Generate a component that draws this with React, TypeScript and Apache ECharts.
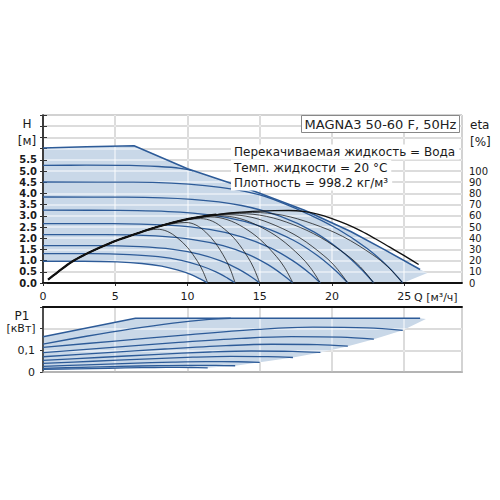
import React, { useEffect, useRef } from "react";
import * as echarts from "echarts";

// ---------- tick labels ----------
const qTicks = [0, 5, 10, 15, 20, 25];
const hTicks = [0, 0.5, 1, 1.5, 2, 2.5, 3, 3.5, 4, 4.5, 5, 5.5];
const etaTicks = [0, 10, 20, 30, 40, 50, 60, 70, 80, 90, 100];
const pTicks = [0, 0.1];

// ---------- head curves H [m] vs Q [m3/h] ----------
const hMax = [[0, 6.03], [3, 6.08], [6.3, 6.13], [10, 5.1], [14.4, 4.15], [18.1, 3.25], [21.3, 2.3], [23.6, 1.5], [26.1, 0.6]];
const hTip = [[26.6, 0.45], [24.9, 0]];
const hC1 = [[0, 0.97], [2.85, 0.97], [5.13, 0.94], [6.84, 0.87], [8.21, 0.75], [9.35, 0.57], [10.26, 0.37], [10.94, 0.16], [11.4, 0]];
const hC2 = [[0, 1.31], [3.33, 1.31], [5.99, 1.27], [7.98, 1.18], [9.58, 1.01], [10.91, 0.77], [11.97, 0.5], [12.77, 0.22], [13.3, 0]];
const hC3 = [[0, 1.67], [3.75, 1.67], [6.75, 1.62], [9, 1.5], [10.8, 1.29], [12.3, 0.99], [13.5, 0.63], [14.4, 0.28], [15, 0]];
const hC4 = [[0, 2.16], [4.33, 2.16], [7.79, 2.1], [10.38, 1.94], [12.46, 1.67], [14.19, 1.28], [15.57, 0.82], [16.61, 0.36], [17.3, 0]];
const hC5 = [[0, 2.65], [4.8, 2.65], [8.64, 2.58], [11.52, 2.39], [13.82, 2.05], [15.74, 1.57], [17.28, 1.0], [18.43, 0.45], [19.2, 0]];
const hC6 = [[0, 3.25], [5.28, 3.24], [9.5, 3.16], [12.66, 2.93], [15.19, 2.51], [17.3, 1.92], [18.99, 1.23], [20.26, 0.55], [21.1, 0]];
const hC7 = [[0, 3.84], [5.73, 3.83], [10.31, 3.73], [13.74, 3.46], [16.49, 2.96], [18.78, 2.27], [20.61, 1.45], [21.98, 0.65], [22.9, 0]];
const hC8 = [[0, 4.51], [6.23, 4.5], [11.21, 4.35], [14.94, 3.95], [17.93, 3.2], [20.42, 2.4], [22.41, 1.55], [23.9, 0.72], [24.9, 0]];
const hC9 = [[0, 5.25], [3, 5.26], [6, 5.25], [8, 5.2], [9.5, 5.12], [10.4, 5.0]];
const hCurves = [hC1, hC2, hC3, hC4, hC5, hC6, hC7, hC8, hC9];

// ---------- efficiency curves eta [%] ----------
const etaRise = [[0.35, 3], [1, 9.5], [2, 19], [3, 26], [4, 32], [5, 37.5], [6, 42], [7, 46.5], [8, 50.5], [9, 54], [10, 57], [11, 59.3], [12, 61], [13, 62.5], [14, 63.5], [15, 64.2], [16, 64.6], [17, 64.7]];
const etaOuterFall = [[18, 64], [19, 61.5], [20, 57.5], [21, 52.5], [22, 46.5], [23, 39.5], [24, 32], [25, 24.5], [26, 16.5]];
const etaArcRiseTo = [6, 8, 9, 10, 11, 11, 12, 13];
const etaArc1 = [[7.9, 48], [8.6, 46.1], [9.3, 40.3], [10.0, 31.7], [10.7, 19.2], [11.05, 11], [11.4, 0]];
const etaArc2 = [[9.9, 54], [10.58, 51.8], [11.26, 45.4], [11.94, 35.6], [12.62, 21.6], [12.96, 12.4], [13.3, 0]];
const etaArc3 = [[10.9, 57.5], [11.72, 55.2], [12.54, 48.3], [13.36, 38], [14.18, 23], [14.59, 13.2], [15.0, 0]];
const etaArc4 = [[11.6, 59], [12.74, 56.6], [13.88, 49.6], [15.02, 38.9], [16.16, 23.6], [16.73, 13.6], [17.3, 0]];
const etaArc5 = [[12.2, 60], [13.6, 57.6], [15.0, 50.4], [16.4, 39.6], [17.8, 24], [18.5, 13.8], [19.2, 0]];
const etaArc6 = [[12.8, 61], [14.46, 58.6], [16.12, 51.2], [17.78, 40.3], [19.44, 24.4], [20.27, 14], [21.1, 0]];
const etaArc7 = [[13.6, 62], [15.46, 59.5], [17.32, 52.1], [19.18, 40.9], [21.04, 24.8], [21.97, 14.3], [22.9, 0]];
const etaArc8 = [[14.5, 63], [16.58, 60.5], [18.66, 52.9], [20.74, 41.6], [22.82, 25.2], [23.86, 14.5], [24.9, 0]];
const etaArcs = [etaArc1, etaArc2, etaArc3, etaArc4, etaArc5, etaArc6, etaArc7, etaArc8];

// ---------- power curves P1 [kW] ----------
const pMax = [[0, 0.163], [6.4, 0.248], [26.1, 0.248]];
const pTip = [26.5, 0.245];
const pC1 = [[0, 0.012], [2.28, 0.0145], [4.56, 0.0174], [6.84, 0.02], [8.55, 0.021], [10.26, 0.0207], [11.4, 0.0195]];
const pC2 = [[0, 0.017], [2.66, 0.0214], [5.32, 0.0257], [7.98, 0.0295], [9.98, 0.031], [11.97, 0.0305], [13.3, 0.0288]];
const pC3 = [[0, 0.0264], [3, 0.0331], [6, 0.0398], [9, 0.0456], [11.25, 0.048], [13.5, 0.0473], [15, 0.0446]];
const pC4 = [[0, 0.0396], [3.46, 0.0497], [6.92, 0.0598], [10.38, 0.0684], [12.98, 0.072], [15.57, 0.0709], [17.3, 0.067]];
const pC5 = [[0, 0.0534], [3.84, 0.0669], [7.68, 0.0805], [11.52, 0.0922], [14.4, 0.097], [17.28, 0.0955], [19.2, 0.0902]];
const pC6 = [[0, 0.0704], [4.22, 0.0883], [8.44, 0.1062], [12.66, 0.1216], [15.83, 0.128], [18.99, 0.1261], [21.1, 0.119]];
const pC7 = [[0, 0.0897], [4.58, 0.1125], [9.16, 0.1353], [13.74, 0.1549], [17.18, 0.163], [20.61, 0.1606], [22.9, 0.1516]];
const pC8 = [[0, 0.1139], [4.98, 0.1428], [9.96, 0.1718], [14.94, 0.1967], [18.68, 0.207], [22.41, 0.2039], [24.9, 0.1925]];
const pC9 = [[0, 0.129], [3, 0.165], [6, 0.198], [9, 0.226], [11.5, 0.243], [13, 0.248]];
const pCurves = [pC1, pC2, pC3, pC4, pC5, pC6, pC7, pC8];

// ---------- texts ----------
const titleText = "MAGNA3 50-60 F, 50Hz";
const infoLines = ["Перекачиваемая жидкость = Вода", "Темп. жидкости = 20 °C", "Плотность = 998.2 кг/м³"];

const FONT = "DejaVu Sans";
const FILL = "#c9d8e8";
const BLUE = "#2d5b98";
const GRID_GRAY = "#a8a8a8";
const GRID_WHITE = "rgba(255,255,255,0.62)";

function polygonSeries(points: number[][], xi: number, yi: number) {
  return {
    type: "custom",
    xAxisIndex: xi,
    yAxisIndex: yi,
    z: 1,
    silent: true,
    data: [[0, 0]],
    renderItem: (_p: any, api: any) => ({
      type: "polygon",
      shape: { points: points.map((p) => api.coord(p)) },
      style: { fill: FILL },
    }),
  };
}

function lineSeries(data: number[][], xi: number, yi: number, color: string, width: number, extra: any = {}) {
  return {
    type: "line",
    xAxisIndex: xi,
    yAxisIndex: yi,
    data,
    showSymbol: false,
    symbol: "none",
    smooth: 0.35,
    silent: true,
    z: 3,
    lineStyle: { color, width },
    ...extra,
  };
}

const isIn = (arr: number[], v: number) => arr.some((t) => Math.abs(t - v) < 1e-6);

export default function App() {
  const ref = useRef<HTMLDivElement>(null);

  useEffect(() => {
    if (!ref.current) return;
    const chart = echarts.init(ref.current, null, { renderer: "svg" });

    const hPoly = [...hMax, ...hTip, ...[...hC1].reverse()];
    const pEnds = [...pCurves].reverse().map((c) => c[c.length - 1]);
    const pPoly = [...pMax, pTip, ...pEnds, ...[...pC1].reverse().slice(1)];

    const etaSeries = etaArcs.map((arc, i) =>
      lineSeries([...etaRise.filter((p) => p[0] <= etaArcRiseTo[i]), ...arc], 0, 1, "rgba(20,20,20,0.75)", 1)
    );

    const qBase = { type: "value", min: 0, max: 29, interval: 5 };
    const hBase = { type: "value", min: 0, max: 7.5, interval: 0.5 };
    const pBase = { type: "value", min: 0, max: 0.3, interval: 0.1 };
    const labelStyle = { fontFamily: FONT, color: "#1a1a1a" };
    const hidden = { axisLabel: { show: false }, axisTick: { show: false } };

    const option: any = {
      animation: false,
      backgroundColor: "#ffffff",
      grid: [
        { left: 43, top: 115, width: 419, height: 168, show: true, borderColor: "#666", borderWidth: 1, backgroundColor: "transparent" },
        { left: 43, top: 307, width: 419, height: 65, show: true, borderColor: "#aaa", borderWidth: 1.5, backgroundColor: "transparent" },
      ],
      xAxis: [
        {
          ...qBase, gridIndex: 0, position: "bottom", z: 0,
          axisLine: { show: false },
          axisTick: { show: true, length: 3, lineStyle: { color: "#333" } },
          axisLabel: { ...labelStyle, fontSize: 11, margin: 8, showMinLabel: true, showMaxLabel: false, formatter: (v: number) => (isIn(qTicks, v) ? String(v) : "") },
          splitLine: { show: true, lineStyle: { color: GRID_GRAY, width: 1.5 } },
        },
        {
          ...qBase, gridIndex: 0, position: "bottom", z: 2, ...hidden,
          axisLine: { show: true, lineStyle: { color: "#111", width: 1.8 } },
          splitLine: { show: true, lineStyle: { color: GRID_WHITE, width: 1.5 } },
        },
        {
          ...qBase, gridIndex: 1, position: "bottom", z: 0, ...hidden,
          axisLine: { show: false },
          splitLine: { show: true, lineStyle: { color: GRID_GRAY, width: 1.5 } },
        },
        {
          ...qBase, gridIndex: 1, position: "bottom", z: 2, ...hidden,
          axisLine: { show: true, lineStyle: { color: "#aaa", width: 1.5 } },
          splitLine: { show: true, lineStyle: { color: GRID_WHITE, width: 1.5 } },
        },
        {
          ...qBase, gridIndex: 1, position: "top", z: 2, ...hidden,
          axisLine: { show: true, lineStyle: { color: "#111", width: 1.8 } },
          splitLine: { show: false },
        },
      ],
      yAxis: [
        {
          ...hBase, gridIndex: 0, position: "left", z: 0,
          axisLine: { show: false },
          axisTick: { show: true, length: 3, lineStyle: { color: "#333" } },
          axisLabel: {
            ...labelStyle, fontSize: 10, fontWeight: "bold", lineHeight: 10, margin: 6, showMinLabel: true,
            formatter: (v: number) => (isIn(hTicks, v) ? v.toFixed(1) : ""),
          },
          splitLine: { show: true, lineStyle: { color: GRID_GRAY, width: 1.5 } },
        },
        {
          type: "value", min: 0, max: 150, interval: 10, gridIndex: 0, position: "right", z: 2,
          axisLine: { show: true, lineStyle: { color: "#777", width: 1.5 } },
          axisTick: { show: true, length: 4, inside: false, lineStyle: { color: "#333" } },
          axisLabel: {
            ...labelStyle, fontSize: 10, lineHeight: 10, margin: 7, showMinLabel: true,
            formatter: (v: number) => (isIn(etaTicks, v) && v > 0 ? String(v) : ""),
          },
          splitLine: { show: false },
        },
        {
          ...hBase, gridIndex: 0, position: "left", z: 2, ...hidden,
          axisLine: { show: true, lineStyle: { color: "#222", width: 1.5 } },
          splitLine: { show: true, lineStyle: { color: GRID_WHITE, width: 1.5 } },
        },
        {
          ...pBase, gridIndex: 1, position: "left", z: 0,
          axisLine: { show: false },
          axisTick: { show: true, length: 3, lineStyle: { color: "#333" } },
          axisLabel: {
            ...labelStyle, fontSize: 11, margin: 8, showMinLabel: true,
            formatter: (v: number) => (isIn(pTicks, v) ? (v === 0 ? "0" : String(v).replace(".", ",")) : ""),
          },
          splitLine: { show: true, lineStyle: { color: GRID_GRAY, width: 1.5 } },
        },
        {
          ...pBase, gridIndex: 1, position: "left", z: 2, ...hidden,
          axisLine: { show: true, lineStyle: { color: "#222", width: 1.5 } },
          splitLine: { show: true, lineStyle: { color: GRID_WHITE, width: 1.5 } },
        },
      ],
      series: [
        polygonSeries(hPoly, 0, 0),
        polygonSeries(pPoly, 2, 3),
        ...hCurves.map((c) => lineSeries(c, 0, 0, BLUE, 1.3)),
        lineSeries(hMax, 0, 0, BLUE, 1.6, { smooth: false }),
        ...pCurves.map((c) => lineSeries(c, 2, 3, BLUE, 1.3)),
        lineSeries(pC9, 2, 3, BLUE, 1.3),
        lineSeries(pMax, 2, 3, BLUE, 1.6, { smooth: false }),
        ...etaSeries,
        lineSeries(etaRise.filter((p) => p[0] <= 12), 0, 1, "#111", 2.2),
        lineSeries([...etaRise, ...etaOuterFall], 0, 1, "#111", 1.4),
      ],
      graphic: [
        { type: "rect", z: 100, shape: { x: 301.5, y: 115.5, width: 158, height: 17 }, style: { fill: "#fff", stroke: "#888", lineWidth: 1 } },
        { type: "text", z: 101, x: 380.5, y: 124.5, style: { text: titleText, font: `13px '${FONT}'`, fill: "#222", align: "center", verticalAlign: "middle" } },
        ...infoLines.map((t, i) => ({
          type: "text", z: 100, x: 231, y: 152 + i * 15.5,
          style: { text: t, font: `12px '${FONT}'`, fill: "#1a1a1a", align: "left", verticalAlign: "middle", backgroundColor: "#fff", padding: [2, 4, 1, 3] },
        })),
        { type: "text", z: 100, x: 27, y: 124, style: { text: "H", font: `12px '${FONT}'`, fill: "#1a1a1a", align: "center", verticalAlign: "middle" } },
        { type: "text", z: 100, x: 27, y: 141, style: { text: "[м]", font: `12px '${FONT}'`, fill: "#1a1a1a", align: "center", verticalAlign: "middle" } },
        { type: "text", z: 100, x: 470, y: 125, style: { text: "eta", font: `12px '${FONT}'`, fill: "#1a1a1a", align: "left", verticalAlign: "middle" } },
        { type: "text", z: 100, x: 470, y: 141.5, style: { text: "[%]", font: `12px '${FONT}'`, fill: "#1a1a1a", align: "left", verticalAlign: "middle" } },
        { type: "text", z: 100, x: 414, y: 297, style: { text: "Q [м³/ч]", font: `11px '${FONT}'`, fill: "#1a1a1a", align: "left", verticalAlign: "middle" } },
        { type: "text", z: 100, x: 22, y: 316, style: { text: "P1", font: `12px '${FONT}'`, fill: "#1a1a1a", align: "center", verticalAlign: "middle" } },
        { type: "text", z: 100, x: 21, y: 328, style: { text: "[кВт]", font: `11px '${FONT}'`, fill: "#1a1a1a", align: "center", verticalAlign: "middle" } },
      ],
    };

    chart.setOption(option);

    // eta zero label, positioned through the axes' own scales
    try {
      const px = chart.convertToPixel({ xAxisIndex: 0 } as any, 29) as any;
      const py = chart.convertToPixel({ yAxisIndex: 1 } as any, etaTicks[0]) as any;
      const x = typeof px === "number" ? px : 462;
      const y = typeof py === "number" ? py : 283;
      chart.setOption({
        graphic: [
          ...option.graphic,
          {
            type: "text", z: 100, x: x + 7, y,
            style: { text: String(etaTicks[0]), font: `10px '${FONT}'`, fill: "#1a1a1a", align: "left", verticalAlign: "middle" },
          },
        ],
      });
    } catch (e) {
      // keep chart as is
    }
    return () => chart.dispose();
  }, []);

  return <div ref={ref} style={{ position: "fixed", left: 0, top: 0, width: 500, height: 500, background: "#fff" }} />;
}
